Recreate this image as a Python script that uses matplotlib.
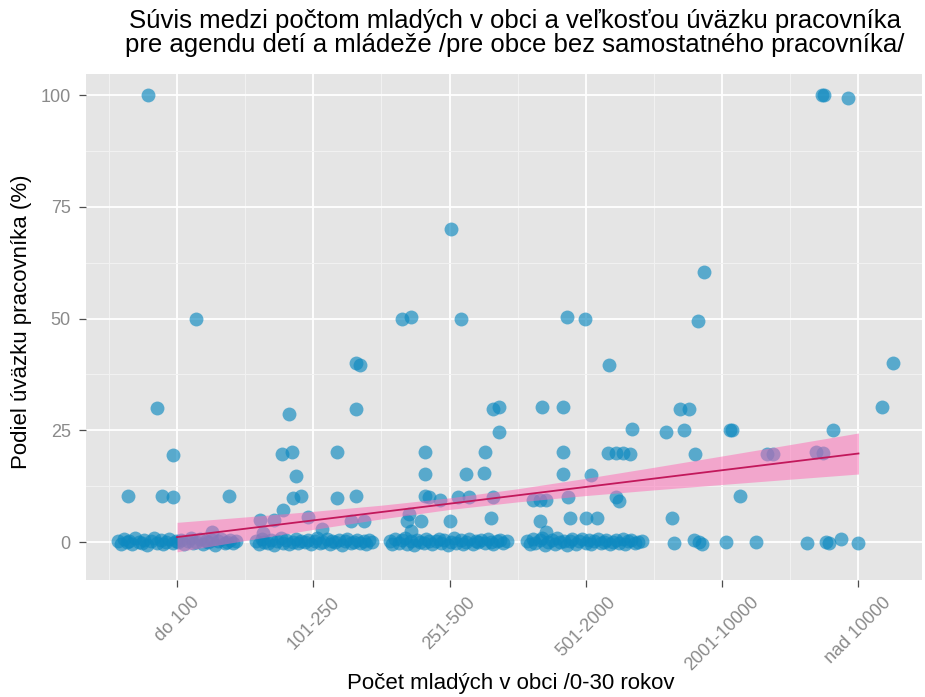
import matplotlib
matplotlib.use('Agg')
import matplotlib.pyplot as plt
import numpy as np

plt.rcParams['font.family'] = ['Liberation Sans', 'DejaVu Sans']

kategorie = ['do 100', '101-250', '251-500', '501-2000', '2001-10000', 'nad 10000']

# body: posun od stredu kategorie (jitter) a podiel uvazku v %
k1_dx = [-0.21, 0.14, -0.15, -0.03, -0.36, -0.11, -0.03, 0.38, 0.26,
         -0.43, -0.41, -0.39, -0.37, -0.35, -0.33, -0.31, -0.28, -0.26, -0.24,
         -0.22, -0.19, -0.17, -0.15, -0.12, -0.10, -0.08, -0.06, -0.03, -0.01,
         0.01, 0.03, 0.05, 0.08, 0.10, 0.12, 0.14, 0.17, 0.19, 0.21,
         0.23, 0.26, 0.28, 0.30, 0.32, 0.35, 0.37, 0.39, 0.41, 0.43]
k1_y = [100, 50, 30, 19.5, 10.4, 10.3, 10.0, 10.4, 2.3,
        0.2, -0.4, 0.6, -0.1, 0.3, -0.5, 0.8, 0.0, -0.3, 0.5,
        -0.6, 0.2, 0.9, -0.2, 0.4, -0.5, 0.1, 0.7, -0.3, 0.3,
        -0.1, 0.5, -0.4, 0.2, 0.8, -0.2, 0.0, 0.6, -0.5, 0.3,
        -0.1, 0.4, -0.6, 0.2, 0.7, -0.3, 0.1, 0.5, -0.2, 0.3]

k2_dx = [-0.18, -0.23, -0.16, -0.13, -0.15, -0.09, -0.22, 0.17, 0.17, 0.31,
         -0.39, -0.29, -0.04, 0.06, 0.28, 0.37, 0.31, 0.34, 0.31, -0.37,
         -0.42, -0.40, -0.38, -0.36, -0.33, -0.31, -0.29, -0.27, -0.24, -0.22,
         -0.20, -0.18, -0.15, -0.13, -0.11, -0.09, -0.06, -0.04, -0.02, 0.01,
         0.03, 0.05, 0.07, 0.10, 0.12, 0.14, 0.16, 0.19, 0.21, 0.23,
         0.25, 0.28, 0.30, 0.32, 0.34, 0.37, 0.39, 0.41, 0.43]
k2_y = [28.6, 19.8, 20.2, 14.8, 9.9, 10.4, 7.2, 20.2, 9.9, 10.4,
        4.9, 4.9, 5.5, 3.0, 4.6, 4.6, 40.1, 39.6, 29.8, 2.0,
        0.3, -0.5, 0.7, 0.0, -0.3, 0.5, -0.6, 0.2, 0.9, -0.2,
        0.4, -0.4, 0.1, 0.6, -0.3, 0.3, -0.1, 0.5, -0.5, 0.2,
        0.8, -0.2, 0.0, 0.6, -0.4, 0.3, -0.1, 0.4, -0.6, 0.2,
        0.7, -0.3, 0.1, 0.5, -0.2, 0.3, -0.5, 0.4, 0.0]

k3_dx = [-0.35, -0.28, 0.08, 0.01, 0.32, 0.36, 0.36, -0.18, 0.26, -0.18,
         0.12, 0.25, -0.18, -0.15, -0.07, 0.06, 0.14, 0.32, -0.30, -0.31,
         -0.21, 0.00, 0.30, -0.28,
         -0.44, -0.42, -0.40, -0.37, -0.35, -0.33, -0.31, -0.28, -0.26, -0.24,
         -0.22, -0.19, -0.17, -0.15, -0.13, -0.10, -0.08, -0.06, -0.04, -0.01,
         0.01, 0.03, 0.05, 0.08, 0.10, 0.12, 0.14, 0.17, 0.19, 0.21,
         0.23, 0.26, 0.28, 0.30, 0.32, 0.35, 0.37, 0.39, 0.42]
k3_y = [49.9, 50.3, 49.9, 70.0, 29.8, 30.1, 24.5, 20.2, 20.2, 15.2,
        15.2, 15.5, 10.4, 10.0, 9.5, 10.1, 10.1, 10.1, 6.2, 4.6,
        4.7, 4.8, 5.3, 2.4,
        0.3, -0.5, 0.6, -0.2, 0.4, 1.0, -0.4, 0.2, -0.6, 0.5,
        0.0, -0.3, 0.7, 0.3, -0.5, 0.2, 0.6, -0.2, 0.4, -0.6,
        0.1, 0.8, -0.2, 0.5, -0.4, 0.1, 0.6, -0.5, 0.3, -0.1,
        0.4, -0.3, 0.7, 0.0, -0.4, 0.3, 0.5, -0.2, 0.2]

k4_dx = [-0.14, -0.01, 0.17, -0.32, -0.17, 0.34, -0.17, 0.16, 0.22, 0.27,
         0.32, -0.17, 0.04, -0.39, -0.34, -0.29, -0.13, 0.22, 0.24, -0.34,
         -0.12, 0.00, 0.08, -0.29,
         -0.43, -0.41, -0.39, -0.37, -0.34, -0.32, -0.30, -0.28, -0.25, -0.23,
         -0.21, -0.19, -0.16, -0.14, -0.12, -0.10, -0.07, -0.05, -0.03, 0.00,
         0.02, 0.04, 0.06, 0.09, 0.11, 0.13, 0.15, 0.18, 0.20, 0.22,
         0.24, 0.27, 0.29, 0.31, 0.33, 0.36, 0.38, 0.41]
k4_y = [50.3, 49.9, 39.6, 30.1, 30.1, 25.3, 20.2, 20.0, 20.0, 20.0,
        19.8, 15.2, 15.0, 9.5, 9.5, 9.3, 10.0, 10.1, 9.2, 4.6,
        5.4, 5.3, 5.3, 2.3,
        0.2, -0.5, 0.6, -0.3, 0.4, 1.0, -0.6, 0.1, 0.5, -0.4,
        0.8, -0.1, 0.3, -0.6, 0.3, 0.7, -0.4, 0.2, 0.6, -0.2,
        0.4, -0.5, 0.3, 0.7, -0.3, 0.1, 0.5, -0.5, 0.0, 0.4,
        -0.2, 0.6, -0.4, 0.2, 0.5, -0.3, 0.1, 0.3]

k5_dx = [-0.13, -0.18, -0.31, -0.24, -0.41, -0.28, 0.06, 0.07, -0.20, 0.33,
         0.37, 0.13, -0.37, -0.35, -0.21, -0.17, -0.15, 0.03, 0.25]
k5_y = [60.3, 49.5, 29.8, 29.8, 24.5, 25.1, 25.1, 25.0, 19.8, 19.8,
        19.8, 10.4, 5.3, -0.3, 0.4, 0.0, -0.5, 0.0, 0.0]

k6_dx = [-0.27, -0.25, -0.08, 0.25, 0.17, -0.19, -0.31, -0.26,
         -0.38, -0.24, -0.22, -0.13, 0.00]
k6_y = [100, 100, 99.3, 40.0, 30.1, 25.1, 20.2, 20.0,
        -0.3, 0.0, -0.2, 0.6, -0.3]

# linearny trend a interval spolahlivosti
fit_x = [1, 1.5, 2, 2.5, 3, 3.5, 4, 4.5, 5, 5.5, 6]
fit_y = [1.1, 2.97, 4.84, 6.71, 8.58, 10.45, 12.32, 14.19, 16.06, 17.93, 19.8]
fit_lo = [-2.2, 0.34, 2.82, 5.18, 7.28, 8.98, 10.39, 11.66, 12.87, 14.05, 15.21]
fit_hi = [4.4, 5.6, 6.86, 8.24, 9.88, 11.92, 14.25, 16.72, 19.25, 21.81, 24.39]

body_dx = [k1_dx, k2_dx, k3_dx, k4_dx, k5_dx, k6_dx]
body_y = [k1_y, k2_y, k3_y, k4_y, k5_y, k6_y]

fig = plt.figure(figsize=(9.25, 6.97), dpi=100)
ax = fig.add_axes([86 / 925, 1 - 580 / 697, 836 / 925, 506 / 697])
ax.set_facecolor('#E5E5E5')

for i in range(len(kategorie)):
    x = np.array(body_dx[i]) + i + 1
    ax.scatter(x, body_y[i], s=100, color='#0d89c0', alpha=0.65,
               linewidths=0, zorder=3)

ax.fill_between(fit_x, fit_lo, fit_hi, color='#ff69b4', alpha=0.5,
                linewidth=0, zorder=4)
ax.plot(fit_x, fit_y, color='#c2185b', linewidth=1.3, zorder=5)

ax.set_xlim(0.332, 6.466)
ax.set_ylim(-8.5, 104.7)
ax.set_xticks(range(1, 7))
ax.set_xticklabels(kategorie, rotation=45, ha='center', va='top',
                   fontsize=13, color='#8A8A8A')
ax.set_yticks([0, 25, 50, 75, 100])
ax.set_yticklabels(['0', '25', '50', '75', '100'], fontsize=13,
                   color='#8A8A8A')
ax.set_xticks(np.arange(0.5, 6.5, 1), minor=True)
ax.set_yticks([12.5, 37.5, 62.5, 87.5], minor=True)
ax.tick_params(which='major', length=5, width=0.9, color='#4D4D4D')
ax.tick_params(axis='y', pad=6)
ax.tick_params(axis='x', pad=5)
ax.tick_params(which='minor', length=0)
ax.grid(which='major', color='white', linewidth=1.3, zorder=0)
ax.grid(which='minor', color='#F2F2F2', linewidth=0.7, zorder=0)
ax.set_axisbelow(True)
for s in ax.spines.values():
    s.set_visible(False)

fig.text(515 / 925, 1 - 33 / 697,
         'Súvis medzi počtom mladých v obci a veľkosťou úväzku pracovníka\n'
         'pre agendu detí a mládeže /pre obce bez samostatného pracovníka/',
         ha='center', va='center', fontsize=18.5, linespacing=0.95)
fig.text(511 / 925, 1 - 684 / 697, 'Počet mladých v obci /0-30 rokov',
         ha='center', va='center', fontsize=16)
fig.text(22 / 925, 1 - 322 / 697, 'Podiel úväzku pracovníka (%)',
         ha='center', va='center', rotation=90, fontsize=16)

fig.savefig('out.png', dpi=100)
